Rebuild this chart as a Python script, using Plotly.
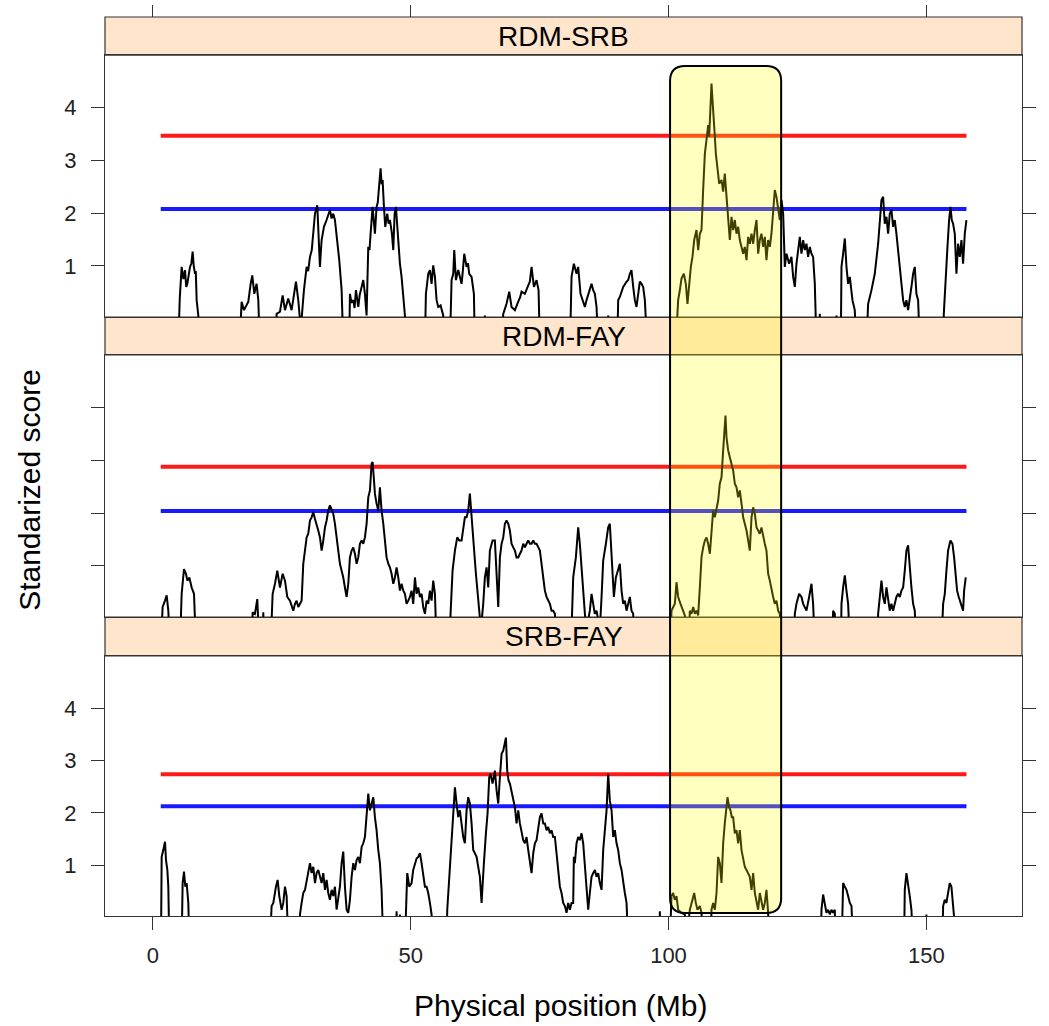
import plotly.graph_objects as go

# Standardized genome-scan scores along the chromosome, (position in Mb, score).
# Scores below zero fall outside the axis range and show as gaps at the baseline.
RDM_SRB = [
    (4.9, -0.5), (5.2, 0.4), (5.56, 0.98), (5.9, 0.75), (6.21, 0.92), (6.45, 0.6), (6.66, 0.66),
    (6.9, 0.85), (7.18, 0.98), (7.45, 1.05), (7.69, 1.27), (7.9, 1.0), (8.15, 0.85), (8.3, 0.9),
    (8.47, 0.35), (8.79, 0.06), (9.0, -0.5),
    (16.8, -0.5), (17.19, 0.32), (17.65, 0.16), (18.16, 0.25), (18.49, 0.32), (18.94, 0.66),
    (19.26, 0.82), (19.65, 0.47), (20.1, 0.66), (20.43, 0.35), (20.7, -0.5),
    (23.8, -0.5), (23.98, 0.09), (24.63, 0.13), (24.9, 0.3), (25.15, 0.44), (25.6, 0.16),
    (26.24, 0.38), (26.89, 0.16), (27.41, 0.47), (27.73, 0.7), (28.18, 0.35), (28.51, 0.06),
    (28.67, -0.2), (29.28, 0.54), (29.8, 0.98), (30.1, 0.9), (30.45, 1.17), (30.8, 1.3),
    (31.09, 1.61), (31.42, 1.99), (31.87, 2.15), (32.06, 1.74), (32.38, 0.98), (32.71, 1.49),
    (32.95, 1.6), (33.16, 1.74), (33.67, 1.87), (34.0, 1.95), (34.32, 2.06), (34.65, 1.9),
    (34.97, 1.99), (35.29, 1.87), (35.61, 1.61), (35.9, 1.35), (36.13, 1.11), (36.59, 0.54),
    (36.91, -0.5),
    (38.07, -0.5), (38.2, 0.47), (38.5, 0.3), (38.85, 0.35), (39.1, 0.2), (39.37, 0.54),
    (39.82, 0.22), (40.1, 0.45), (40.47, 0.6), (40.79, 0.73), (41.11, 0.47), (41.3, 0.15),
    (41.43, 0.06), (41.76, 1.36), (42.0, 1.3), (42.21, 1.61), (42.6, 2.12), (43.05, 1.61),
    (43.37, 2.12), (43.6, 2.2), (43.89, 2.5), (44.15, 2.85), (44.35, 2.55), (44.54, 2.63),
    (44.8, 2.12), (45.05, 1.74), (45.44, 1.99), (45.7, 1.8), (45.96, 1.87), (46.35, 1.61),
    (46.61, 1.3), (46.87, 1.99), (47.12, 2.12), (47.45, 1.61), (47.9, 1.04), (48.22, 0.79),
    (48.55, 0.47), (48.87, 0.06), (49.0, -0.5),
    (52.74, -0.5), (52.94, 0.47), (53.39, 0.85), (53.72, 0.92), (54.04, 0.66), (54.36, 1.01),
    (54.69, 0.79), (55.01, 0.35), (55.33, 0.22), (55.79, 0.25), (56.3, 0.06), (56.45, -0.5),
    (57.6, -0.5), (57.92, 0.73), (58.24, 0.85), (58.44, 1.3), (58.76, 0.73), (59.21, 0.92),
    (59.5, 0.8), (59.86, 0.66), (60.1, 0.9), (60.38, 1.23), (60.83, 0.98), (61.1, 1.05),
    (61.34, 0.85), (61.8, 0.79), (62.25, 0.47), (62.44, -0.5),
    (64.3, -0.5), (64.38, 0.06), (64.5, -0.5),
    (67.6, -0.5), (67.94, 0.09), (68.58, 0.28), (69.1, 0.51), (69.55, 0.22), (70.2, 0.16),
    (70.85, 0.32), (71.2, 0.4), (71.49, 0.51), (72.14, 0.47), (72.79, 0.63), (73.1, 0.7),
    (73.43, 0.98), (73.89, 0.6), (74.4, 0.73), (74.79, 0.54), (75.05, -0.5),
    (80.9, -0.5), (81.19, 0.79), (81.64, 1.04), (82.16, 0.85), (82.48, 0.98), (82.93, 0.47),
    (83.32, 0.35), (83.78, 0.22), (84.1, 0.35), (84.42, 0.47), (85.07, 0.66), (85.39, 0.54),
    (85.71, 0.47), (86.04, 0.22), (86.36, -0.5),
    (88.2, -0.5), (88.3, 0.06), (88.4, -0.5),
    (90.05, -0.5), (90.24, 0.35), (90.56, 0.41), (91.21, 0.6), (91.86, 0.7), (92.18, 0.73),
    (92.5, 0.85), (92.82, 0.92), (93.15, 0.6), (93.47, 0.35), (93.79, 0.22), (94.12, 0.47),
    (94.44, 0.7), (94.76, 0.66), (95.09, 0.6), (95.41, 0.35), (95.86, -0.5),
    (101.42, -0.5), (101.87, 0.35), (102.2, 0.54), (102.52, 0.76), (102.97, 0.85), (103.36, 0.66),
    (103.68, 0.28), (104.01, 0.73), (104.33, 0.98), (104.65, 1.17), (104.98, 1.49), (105.43, 1.68),
    (105.75, 1.3), (106.08, 1.61), (106.4, 1.68), (106.72, 2.44), (107.05, 3.13), (107.37, 3.39),
    (107.69, 3.67), (107.89, 3.45), (108.15, 4.02), (108.34, 4.46), (108.53, 4.15), (108.79, 3.83),
    (108.99, 3.45), (109.18, 3.13), (109.44, 2.88), (109.83, 2.56), (110.28, 2.63), (110.6, 2.41),
    (110.92, 2.75), (111.25, 2.37), (111.57, 1.99), (111.89, 1.49), (112.22, 1.93), (112.54, 1.68),
    (112.86, 1.87), (113.19, 1.61), (113.51, 1.74), (113.83, 1.49), (114.16, 1.36), (114.48, 1.23),
    (114.8, 1.36), (115.13, 1.11), (115.45, 1.55), (115.77, 1.42), (116.1, 1.61), (116.42, 1.42),
    (116.74, 1.68), (117.07, 1.87), (117.39, 1.23), (117.71, 1.49), (118.03, 1.61), (118.36, 1.36),
    (118.68, 1.55), (119.0, 1.11), (119.33, 1.49), (119.65, 1.36), (119.97, 1.61), (120.3, 1.99),
    (120.62, 2.44), (120.94, 2.31), (121.27, 2.12), (121.59, 1.87), (121.91, 2.25), (122.24, 1.99),
    (122.56, 0.98), (122.88, 1.23), (123.4, 1.04), (123.85, 1.17), (124.18, 0.79), (124.5, 0.6),
    (124.82, 1.04), (125.15, 1.36), (125.47, 1.55), (125.79, 1.23), (126.12, 1.49), (126.44, 1.3),
    (126.76, 1.42), (127.08, 1.17), (127.41, 1.36), (127.73, 1.23), (128.05, 1.17), (128.38, 0.66),
    (128.7, -0.5),
    (129.25, -0.5), (129.35, 0.09), (129.45, -0.5), (132.5, -0.5), (132.58, 0.06), (132.66, -0.5),
    (133.42, -0.5), (133.55, 0.98), (133.87, 1.23), (134.2, 1.52), (134.52, 0.98), (134.84, 0.66),
    (135.17, 0.79), (135.68, 0.35), (136.13, 0.16), (136.46, -0.5),
    (138.4, -0.5), (138.72, 0.28), (139.37, 0.54), (140.01, 0.85), (140.66, 1.42), (140.98, 1.87),
    (141.31, 2.25), (141.63, 2.31), (141.95, 1.8), (142.28, 1.93), (142.6, 1.61), (142.92, 1.99),
    (143.24, 2.06), (143.57, 1.74), (143.89, 1.87), (144.21, 1.61), (144.54, 1.3), (144.86, 0.98),
    (145.18, 0.6), (145.51, 0.35), (145.83, 0.22), (146.15, 0.35), (146.48, 0.16), (146.8, 0.35),
    (147.12, 0.6), (147.45, 0.85), (147.77, 0.98), (148.09, 0.47), (148.42, 0.35), (148.74, -0.5),
    (153.27, -0.5), (153.4, 0.09), (153.78, 0.66), (154.11, 1.36), (154.43, 1.87), (154.69, 2.12),
    (154.95, 1.87), (155.2, 1.8), (155.53, 1.61), (155.85, 0.85), (156.17, 1.42), (156.5, 1.17),
    (156.82, 1.49), (157.14, 1.04), (157.47, 1.61), (157.79, 1.87),
]

RDM_FAY = [
    (1.55, -0.5), (1.87, 0.22), (2.33, 0.34), (2.65, 0.44), (2.97, 0.15), (3.3, -0.5),
    (5.24, -0.5), (5.56, 0.47), (6.01, 0.94), (6.4, 0.85), (6.66, 0.72), (7.05, 0.78),
    (7.5, 0.59), (7.95, 0.47), (8.34, -0.5),
    (19.13, -0.5), (19.33, 0.12), (19.78, 0.09), (20.23, 0.37), (20.62, -0.5),
    (21.3, -0.5), (21.4, 0.12), (21.5, -0.5),
    (22.82, -0.5), (23.21, 0.47), (23.66, 0.66), (24.11, 0.91), (24.63, 0.59), (25.15, 0.85),
    (25.6, 0.72), (26.05, 0.41), (26.57, 0.34), (27.21, 0.15), (27.54, 0.28), (27.86, 0.34),
    (28.18, 0.22), (28.51, 0.28), (28.83, 0.34), (29.15, 1.04), (29.48, 1.29), (29.8, 1.54),
    (30.12, 1.61), (30.45, 1.86), (30.77, 1.92), (31.09, 2.02), (31.42, 1.89), (31.74, 1.8),
    (32.06, 1.67), (32.39, 1.54), (32.71, 1.29), (33.03, 1.48), (33.36, 1.73), (33.68, 1.86),
    (34.0, 2.05), (34.32, 2.15), (34.65, 2.05), (34.97, 1.99), (35.29, 1.8), (35.62, 1.48),
    (35.94, 1.29), (36.26, 1.04), (36.59, 0.91), (36.91, 0.78), (37.23, 0.59), (37.56, 0.41),
    (37.88, 0.66), (38.2, 1.16), (38.53, 1.29), (38.85, 1.35), (39.17, 1.23), (39.5, 1.04),
    (39.82, 1.16), (40.14, 1.42), (40.47, 1.48), (40.79, 1.42), (41.11, 1.54), (41.44, 1.8),
    (41.76, 2.3), (42.08, 2.43), (42.41, 2.94), (42.6, 2.97), (42.73, 2.81), (43.05, 2.37),
    (43.37, 2.18), (43.7, 2.05), (44.02, 2.49), (44.34, 2.05), (44.67, 1.8), (44.99, 1.42),
    (45.31, 1.16), (45.64, 1.04), (45.96, 0.97), (46.28, 0.85), (46.61, 0.66), (46.93, 0.78),
    (47.25, 0.97), (47.58, 0.78), (47.9, 0.53), (48.22, 0.66), (48.55, 0.53), (48.87, 0.47),
    (49.19, 0.28), (49.52, 0.34), (49.84, 0.41), (50.16, 0.53), (50.48, 0.28), (50.81, 0.78),
    (51.13, 0.47), (51.45, 0.59), (51.78, 0.41), (52.1, 0.47), (52.42, 0.22), (52.75, 0.09),
    (53.07, 0.34), (53.39, 0.28), (53.72, 0.53), (54.04, 0.34), (54.36, 0.72), (54.69, 0.47),
    (55.01, -0.5),
    (57.6, -0.5), (57.72, 0.09), (58.11, 0.91), (58.57, 1.29), (59.02, 1.54), (59.41, 1.48),
    (59.86, 1.48), (60.18, 1.67), (60.5, 1.92), (60.83, 1.92), (61.15, 2.05), (61.47, 2.37),
    (61.67, 2.05), (61.93, 1.8), (62.25, 1.35), (62.64, 0.85), (62.96, 0.41), (63.28, 0.15),
    (63.61, -0.2), (64.06, 0.28), (64.38, 0.78), (64.71, 0.97), (65.03, 0.59), (65.35, 1.29),
    (65.87, 1.48), (66.32, 1.48), (66.65, 0.78), (66.97, 0.22), (67.29, 1.16), (67.62, 1.42),
    (67.94, 1.54), (68.26, 1.8), (68.58, 1.86), (68.91, 1.8), (69.23, 1.67), (69.55, 1.42),
    (69.88, 1.35), (70.2, 1.29), (70.52, 1.16), (70.85, 1.16), (71.17, 1.23), (71.49, 1.29),
    (71.82, 1.42), (72.14, 1.35), (72.46, 1.42), (72.79, 1.48), (73.11, 1.42), (73.43, 1.42),
    (73.76, 1.48), (74.08, 1.42), (74.4, 1.42), (74.73, 1.35), (75.05, 1.29), (75.37, 1.04),
    (75.7, 0.78), (76.02, 0.53), (76.34, 0.41), (76.66, 0.34), (76.99, 0.28), (77.31, 0.15),
    (77.63, 0.15), (77.96, 0.09), (78.28, -0.5),
    (81.1, -0.5), (81.51, 0.78), (82.03, 1.16), (82.48, 1.73), (82.8, 1.42), (83.13, 0.91),
    (83.45, 0.41), (83.78, 0.09), (84.1, -0.2), (84.74, 0.15), (85.07, 0.47), (85.39, 0.28),
    (85.71, 0.09), (86.04, 0.15), (86.68, -0.2), (87.01, 0.41), (87.33, 1.1), (87.85, 1.42),
    (88.3, 1.73), (88.62, 1.8), (88.82, 1.42), (89.14, 0.91), (89.4, 0.41), (89.79, 0.78),
    (90.24, 0.91), (90.56, 1.04), (90.89, 0.53), (91.21, 0.28), (91.53, 0.34), (91.86, 0.15),
    (92.18, 0.28), (92.5, 0.41), (92.82, 0.15), (93.15, 0.09), (93.3, -0.5),
    (100.4, -0.5), (100.58, 0.15), (101.23, 0.28), (101.55, 0.69), (101.87, 0.41), (102.33, 0.28),
    (102.84, 0.15), (103.17, 0.06), (103.5, -0.5), (103.9, -0.5), (104.14, 0.15), (104.46, 0.09),
    (104.79, 0.22), (105.11, 0.09), (105.43, 0.15), (105.75, 0.06), (106.08, 0.59), (106.4, 1.16),
    (106.72, 1.35), (107.05, 1.48), (107.37, 1.54), (107.69, 1.42), (108.02, 1.23), (108.34, 1.67),
    (108.66, 2.05), (108.99, 1.92), (109.31, 2.11), (109.63, 2.24), (109.95, 2.56), (110.28, 2.68),
    (110.6, 3.19), (110.8, 3.57), (111.05, 3.85), (111.25, 3.44), (111.57, 3.19), (111.89, 3.06),
    (112.22, 2.94), (112.54, 2.81), (112.86, 2.56), (113.19, 2.49), (113.51, 2.3), (113.83, 2.43),
    (114.16, 2.18), (114.48, 1.92), (114.8, 1.8), (115.13, 1.67), (115.45, 1.48), (115.77, 1.29),
    (116.1, 1.92), (116.42, 2.11), (116.74, 1.99), (117.07, 1.73), (117.39, 1.67), (117.71, 1.61),
    (118.03, 1.73), (118.36, 1.54), (118.68, 1.42), (119.0, 1.29), (119.33, 0.85), (119.65, 0.72),
    (119.97, 0.53), (120.3, 0.41), (120.62, 0.28), (120.94, 0.34), (121.27, 0.15), (121.59, 0.09),
    (121.91, -0.5),
    (124.4, -0.5), (124.5, 0.09), (124.82, 0.28), (125.34, 0.47), (125.79, 0.41), (126.12, 0.28),
    (126.76, 0.15), (127.28, 0.41), (127.73, 0.66), (128.05, 0.28), (128.38, -0.5),
    (131.8, -0.5), (131.93, 0.15), (132.26, 0.09), (132.4, -0.5),
    (133.45, -0.5), (133.55, 0.28), (133.87, 0.59), (134.2, 0.82), (134.52, 0.53), (134.84, 0.28),
    (135.17, -0.5),
    (140.55, -0.5), (140.66, 0.09), (140.98, 0.41), (141.31, 0.72), (141.63, 0.41), (141.95, 0.28),
    (142.28, 0.59), (142.6, 0.34), (142.92, 0.15), (143.24, 0.28), (143.57, 0.15), (143.89, 0.28),
    (144.21, 0.41), (144.54, 0.47), (144.86, 0.41), (145.18, 0.53), (145.51, 0.59), (145.83, 0.91),
    (146.15, 1.29), (146.48, 1.39), (146.8, 0.91), (147.12, 0.59), (147.45, 0.28), (147.77, 0.15),
    (148.09, -0.5),
    (152.94, -0.5), (153.27, 0.28), (153.59, 0.47), (153.91, 0.91), (154.23, 1.29), (154.69, 1.48),
    (155.08, 1.42), (155.4, 1.16), (155.72, 0.78), (155.98, 0.53), (156.3, 0.41), (156.5, 0.34),
    (156.82, 0.28), (157.14, 0.15), (157.34, 0.53), (157.66, 0.78),
]

SRB_FAY = [
    (1.55, -0.5), (1.68, 1.16), (2.0, 1.29), (2.33, 1.45), (2.52, 1.1), (2.78, 0.91), (2.97, 0.59),
    (3.17, -0.5),
    (5.56, -0.5), (5.75, 0.66), (6.01, 0.88), (6.27, 0.59), (6.53, 0.66), (6.85, 0.28), (7.05, -0.5),
    (22.69, -0.5), (23.01, 0.22), (23.34, 0.28), (23.85, 0.59), (24.18, 0.72), (24.5, 0.41),
    (24.95, 0.15), (25.27, 0.28), (25.6, 0.59), (25.92, 0.41), (26.24, -0.5),
    (28.38, -0.5), (28.51, 0.06), (28.83, 0.28), (29.15, 0.47), (29.48, 0.53), (29.8, 0.72),
    (30.12, 0.85), (30.45, 1.04), (30.77, 0.85), (31.09, 0.97), (31.42, 0.66), (31.74, 0.85),
    (32.06, 0.91), (32.39, 0.78), (32.71, 0.66), (33.03, 0.85), (33.36, 0.53), (33.68, 0.72),
    (34.0, 0.47), (34.32, 0.34), (34.65, 0.53), (34.97, 0.41), (35.29, 0.59), (35.62, 0.15),
    (35.94, 0.41), (36.26, 0.59), (36.59, 1.04), (36.91, 1.26), (37.23, 0.59), (37.56, 0.15),
    (37.88, 0.09), (38.2, 0.34), (38.53, 0.78), (38.85, 1.04), (39.17, 0.91), (39.5, 1.1),
    (39.82, 1.16), (40.14, 1.04), (40.47, 1.35), (40.79, 1.42), (41.11, 1.54), (41.44, 1.99),
    (41.76, 2.37), (42.08, 2.05), (42.41, 2.18), (42.73, 2.3), (43.05, 1.92), (43.37, 1.67),
    (43.7, 1.29), (44.02, 1.04), (44.34, 0.53), (44.67, -0.5),
    (47.15, -0.5), (47.25, 0.12), (47.4, -0.5), (47.8, -0.5), (47.9, 0.06), (48.0, -0.5),
    (48.87, -0.5), (49.06, 0.28), (49.32, 0.85), (49.71, 0.59), (50.16, 0.66), (50.48, 0.91),
    (50.81, 1.04), (51.13, 1.13), (51.45, 1.16), (51.78, 1.23), (52.1, 1.04), (52.42, 0.85),
    (52.75, 0.59), (53.07, 0.59), (53.39, 0.47), (53.72, 0.28), (54.04, 0.06), (54.2, -0.5),
    (56.95, -0.5), (57.08, 0.15), (57.47, 0.78), (57.72, 1.16), (58.11, 1.92), (58.57, 2.49),
    (58.89, 2.18), (59.21, 1.92), (59.53, 2.05), (59.86, 1.73), (60.18, 1.54), (60.5, 1.42),
    (60.83, 2.05), (61.15, 2.3), (61.47, 2.18), (61.8, 1.8), (62.12, 1.29), (62.44, 1.23),
    (62.77, 1.16), (63.09, 0.97), (63.41, 0.78), (63.74, 0.28), (63.93, 0.66), (64.19, 1.04),
    (64.58, 1.61), (64.9, 1.99), (65.22, 2.68), (65.48, 2.75), (65.87, 2.56), (66.32, 2.81),
    (66.65, 2.43), (66.97, 2.18), (67.29, 2.68), (67.62, 3.13), (67.94, 3.19), (68.26, 3.32),
    (68.46, 3.44), (68.71, 2.81), (68.97, 2.62), (69.23, 2.56), (69.55, 2.43), (69.88, 2.24),
    (70.2, 2.11), (70.52, 1.8), (70.85, 2.05), (71.17, 1.8), (71.49, 1.61), (71.82, 1.48),
    (72.14, 1.42), (72.46, 1.54), (72.79, 1.29), (73.11, 1.04), (73.43, 0.85), (73.76, 1.23),
    (74.08, 1.42), (74.4, 1.48), (74.73, 1.67), (75.05, 1.92), (75.37, 1.99), (75.7, 1.8),
    (76.02, 1.8), (76.34, 1.67), (76.66, 1.73), (76.99, 1.61), (77.31, 1.67), (77.63, 1.54),
    (77.96, 1.54), (78.28, 1.23), (78.6, 0.78), (78.93, 0.59), (79.25, 0.47), (79.57, 0.28),
    (79.9, 0.22), (80.22, 0.09), (80.54, 0.28), (80.87, 0.15), (81.19, 0.28), (81.51, 0.28),
    (81.64, 1.16), (81.83, 1.04), (82.16, 1.42), (82.48, 1.54), (82.8, 1.48), (83.13, 1.61),
    (83.45, 1.42), (83.78, 1.04), (84.1, 0.53), (84.42, 0.15), (84.74, 0.47), (85.07, 0.78),
    (85.39, 0.85), (85.71, 0.91), (86.04, 0.78), (86.36, 0.85), (86.68, 0.66), (87.01, 0.53),
    (87.33, 1.29), (87.65, 1.67), (87.98, 2.05), (88.3, 2.75), (88.62, 2.24), (88.95, 2.05),
    (89.27, 1.54), (89.59, 1.67), (89.92, 1.42), (90.24, 1.29), (90.56, 1.04), (90.89, 0.91),
    (91.21, 0.66), (91.53, 0.47), (91.86, 0.28), (92.18, -0.5),
    (98.2, -0.5), (98.32, 0.12), (98.45, -0.5),
    (100.25, -0.5), (100.58, 0.41), (100.9, 0.47), (101.23, 0.34), (101.55, 0.41), (101.87, 0.15),
    (102.52, 0.09), (103.17, 0.06), (103.6, -0.3), (104.14, 0.15), (104.65, 0.34), (104.98, 0.47),
    (105.3, 0.28), (105.62, 0.15), (106.08, 0.22), (106.4, 0.09), (106.72, -0.5),
    (108.2, -0.5), (108.34, 0.15), (108.66, 0.28), (108.99, 0.15), (109.31, 0.47), (109.63, 1.16),
    (109.95, 1.04), (110.28, 0.66), (110.6, 1.42), (110.92, 1.8), (111.25, 2.11), (111.44, 2.3),
    (111.76, 2.11), (112.02, 2.05), (112.28, 1.92), (112.54, 1.92), (112.86, 1.61), (113.19, 1.67),
    (113.51, 1.42), (113.83, 1.67), (114.16, 1.29), (114.48, 1.1), (114.8, 0.97), (115.13, 0.91),
    (115.45, 0.85), (115.77, 0.78), (116.1, 0.53), (116.42, 0.85), (116.74, 0.47), (117.07, 0.28),
    (117.39, 0.15), (117.71, 0.47), (118.03, 0.34), (118.36, 0.15), (118.68, 0.28), (119.0, 0.53),
    (119.33, 0.09), (119.5, -0.5),
    (129.55, -0.5), (129.67, 0.15), (129.99, 0.44), (130.32, 0.28), (130.64, 0.09), (130.96, 0.15),
    (131.29, 0.06), (131.61, 0.15), (131.93, 0.09), (132.26, 0.15), (132.4, -0.5),
    (133.6, -0.5), (133.74, 0.28), (133.87, 0.66), (134.2, 0.59), (134.52, 0.53), (134.84, 0.41),
    (135.17, 0.28), (135.49, 0.22), (135.81, -0.5),
    (145.7, -0.5), (145.83, 0.53), (146.15, 0.85), (146.48, 0.66), (146.8, 0.41), (147.12, 0.15),
    (147.45, -0.5),
    (149.95, -0.5), (150.03, 0.06), (150.12, -0.5),
    (153.1, -0.5), (153.27, 0.22), (153.59, 0.34), (153.91, 0.28), (154.23, 0.47), (154.56, 0.66),
    (154.88, 0.59), (155.2, 0.28), (155.53, 0.09), (155.85, -0.5),
]

PANEL_NAMES = ["RDM-SRB", "RDM-FAY", "SRB-FAY"]
PANEL_SCORES = [RDM_SRB, RDM_FAY, SRB_FAY]
THRESHOLD_RED = [3.47, 2.88, 2.74]
THRESHOLD_BLUE = [2.08, 2.04, 2.13]
CHROM_SPAN = [1.5, 157.8]          # first and last scanned positions (Mb)
HIGHLIGHT_MB = [100.3, 121.85]     # candidate region boxed across all panels
X_TICKS = [0, 50, 100, 150]
Y_TICKS = [1, 2, 3, 4]

X_RANGE = [-9.31, 168.57]
Y_RANGE = [0.03, 5.0]

FONT = "Liberation Sans, Arial, sans-serif"
FRAME = "#333333"

# Vertical layout in paper units: panel domain and the strip above it, top to bottom
PANEL_DOMAINS = [[0.6663, 0.9577], [0.3326, 0.6240], [0.0, 0.2892]]
STRIP_DOMAINS = [[0.9577, 1.0], [0.6240, 0.6663], [0.2892, 0.3326]]

fig = go.Figure()

for i, (name, pts) in enumerate(zip(PANEL_NAMES, PANEL_SCORES)):
    xa = "x" if i == 0 else f"x{i + 1}"
    ya = "y" if i == 0 else f"y{i + 1}"
    for level, color in ((THRESHOLD_RED[i], "rgba(255,0,0,0.9)"),
                         (THRESHOLD_BLUE[i], "rgba(0,0,255,0.9)")):
        fig.add_trace(go.Scatter(
            x=CHROM_SPAN, y=[level, level], mode="lines",
            line=dict(color=color, width=4), xaxis=xa, yaxis=ya,
            showlegend=False, hoverinfo="skip"))
    fig.add_trace(go.Scatter(
        x=[p[0] for p in pts], y=[p[1] for p in pts], mode="lines",
        line=dict(color="black", width=2), xaxis=xa, yaxis=ya,
        name=name, showlegend=False))

# Empty trace that carries the tick row along the top edge
fig.add_trace(go.Scatter(x=[], y=[], xaxis="x4", yaxis="y", showlegend=False))

common_x = dict(range=X_RANGE, showgrid=False, zeroline=False, showline=True,
                linecolor=FRAME, linewidth=1.2, mirror=True, tickvals=X_TICKS,
                automargin=False)
common_y = dict(range=Y_RANGE, showgrid=False, zeroline=False, showline=True,
                linecolor=FRAME, linewidth=1.2, mirror="ticks", ticks="outside",
                ticklen=13, tickwidth=1.2, tickcolor=FRAME, tickvals=Y_TICKS,
                tickfont=dict(family=FONT, size=22, color="#222222"),
                ticklabelstandoff=10, automargin=False)

layout = dict(
    width=1049, height=1026,
    margin=dict(l=105, r=27, t=17, b=110, autoexpand=False),
    paper_bgcolor="white", plot_bgcolor="white",
    font=dict(family=FONT),
    xaxis=dict(common_x, anchor="y", ticks="", showticklabels=False),
    xaxis2=dict(common_x, anchor="y2", ticks="", showticklabels=False),
    xaxis3=dict(common_x, anchor="y3", ticks="outside", ticklen=13, tickwidth=1.2,
                tickcolor=FRAME, showticklabels=True,
                tickfont=dict(family=FONT, size=22, color="#222222"),
                ticklabelstandoff=6),
    xaxis4=dict(range=X_RANGE, overlaying="x", side="top", anchor="free", position=1.0,
                showgrid=False, zeroline=False, showline=False, ticks="outside",
                ticklen=12, tickwidth=1.2, tickcolor=FRAME, tickvals=X_TICKS,
                showticklabels=False, automargin=False),
    yaxis=dict(common_y, domain=PANEL_DOMAINS[0], anchor="x"),
    yaxis2=dict(common_y, domain=PANEL_DOMAINS[1], anchor="x2", showticklabels=False),
    yaxis3=dict(common_y, domain=PANEL_DOMAINS[2], anchor="x3"),
)
fig.update_layout(**layout)

shapes = []
annotations = []
for name, (s0, s1) in zip(PANEL_NAMES, STRIP_DOMAINS):
    shapes.append(dict(type="rect", xref="paper", yref="paper", x0=0, x1=1, y0=s0, y1=s1,
                       fillcolor="#FFE5CC", line=dict(color=FRAME, width=1.2), layer="below"))
    annotations.append(dict(text=name, xref="paper", yref="paper", x=0.5, y=(s0 + s1) / 2,
                            xanchor="center", yanchor="middle", showarrow=False,
                            font=dict(family=FONT, size=28, color="black")))

# Rounded, translucent box marking the candidate region through all three panels
bx0, bx1 = HIGHLIGHT_MB
by0, by1 = 0.0033, 0.9455
rx, ry = 2.9, 0.0167
box_path = (f"M {bx0 + rx},{by0} L {bx1 - rx},{by0} Q {bx1},{by0} {bx1},{by0 + ry} "
            f"L {bx1},{by1 - ry} Q {bx1},{by1} {bx1 - rx},{by1} "
            f"L {bx0 + rx},{by1} Q {bx0},{by1} {bx0},{by1 - ry} "
            f"L {bx0},{by0 + ry} Q {bx0},{by0} {bx0 + rx},{by0} Z")
shapes.append(dict(type="path", xref="x", yref="paper", path=box_path,
                   fillcolor="rgba(255,255,0,0.25)", line=dict(color="black", width=2),
                   layer="above"))

annotations.append(dict(text="Standarized score", xref="paper", yref="paper",
                        x=-0.0818, y=0.474, textangle=-90, showarrow=False,
                        xanchor="center", yanchor="middle",
                        font=dict(family=FONT, size=30, color="black")))
annotations.append(dict(text="Physical position (Mb)", xref="paper", yref="paper",
                        x=0.497, y=-0.099, showarrow=False,
                        xanchor="center", yanchor="middle",
                        font=dict(family=FONT, size=30, color="black")))

fig.update_layout(shapes=shapes, annotations=annotations)

fig.write_html("out.html")
